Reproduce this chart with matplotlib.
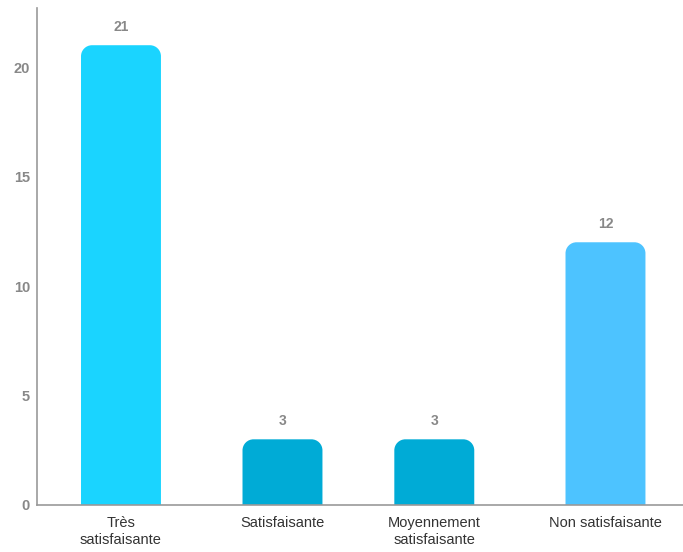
import matplotlib
matplotlib.use("Agg")
import matplotlib.pyplot as plt
from matplotlib.path import Path
from matplotlib.patches import PathPatch

# satisfaction survey counts
categories = ["Très\nsatisfaisante", "Satisfaisante", "Moyennement\nsatisfaisante", "Non satisfaisante"]
counts = [21, 3, 3, 12]
colors = ["#1AD4FF", "#00ABD6", "#00ABD6", "#4DC3FF"]
yticks = [0, 5, 10, 15, 20]

plt.rcParams["font.family"] = ["Liberation Sans", "DejaVu Sans"]

fig = plt.figure(figsize=(6.83, 5.52), dpi=100)
ax = fig.add_axes([37 / 683, 47 / 552, 646 / 683, 497 / 552])

xs = [0, 1, 1.94, 3]
width = 0.495
ax.set_xlim(-0.52, 3.48)
ax.set_ylim(0, 22.7)

# corner radius of the bar tops, 11 px converted to data units on each axis
px_x = (ax.get_xlim()[1] - ax.get_xlim()[0]) / 646
px_y = (ax.get_ylim()[1] - ax.get_ylim()[0]) / 497
rx, ry = 11 * px_x, 11 * px_y
k = 0.5523  # bezier handle for a quarter circle


def top_rounded_bar(x0, w, h):
    x1 = x0 + w
    verts = [(x0, 0), (x0, h - ry),
             (x0, h - ry + k * ry), (x0 + rx - k * rx, h), (x0 + rx, h),
             (x1 - rx, h),
             (x1 - rx + k * rx, h), (x1, h - ry + k * ry), (x1, h - ry),
             (x1, 0), (x0, 0)]
    codes = [Path.MOVETO, Path.LINETO,
             Path.CURVE4, Path.CURVE4, Path.CURVE4,
             Path.LINETO,
             Path.CURVE4, Path.CURVE4, Path.CURVE4,
             Path.LINETO, Path.CLOSEPOLY]
    return Path(verts, codes)


for x, v, c in zip(xs, counts, colors):
    ax.add_patch(PathPatch(top_rounded_bar(x - width / 2, width, v), fc=c, ec="none"))
    ax.text(x, v + 0.5, str(v), ha="center", va="bottom",
            fontsize=10, fontweight="bold", color="#888888")

ax.set_xticks(xs)
ax.set_xticklabels(categories, fontsize=10.5, color="#333333", linespacing=1.3)
ax.set_yticks(yticks)
ax.set_yticklabels([str(t) for t in yticks], fontsize=10.5, fontweight="bold", color="#888888")
ax.tick_params(axis="both", length=0)
ax.tick_params(axis="x", pad=8)
ax.tick_params(axis="y", pad=5)

for s in ["top", "right"]:
    ax.spines[s].set_visible(False)
for s in ["left", "bottom"]:
    ax.spines[s].set_color("#999999")
    ax.spines[s].set_linewidth(1.2)

fig.savefig("out.png", dpi=100)
